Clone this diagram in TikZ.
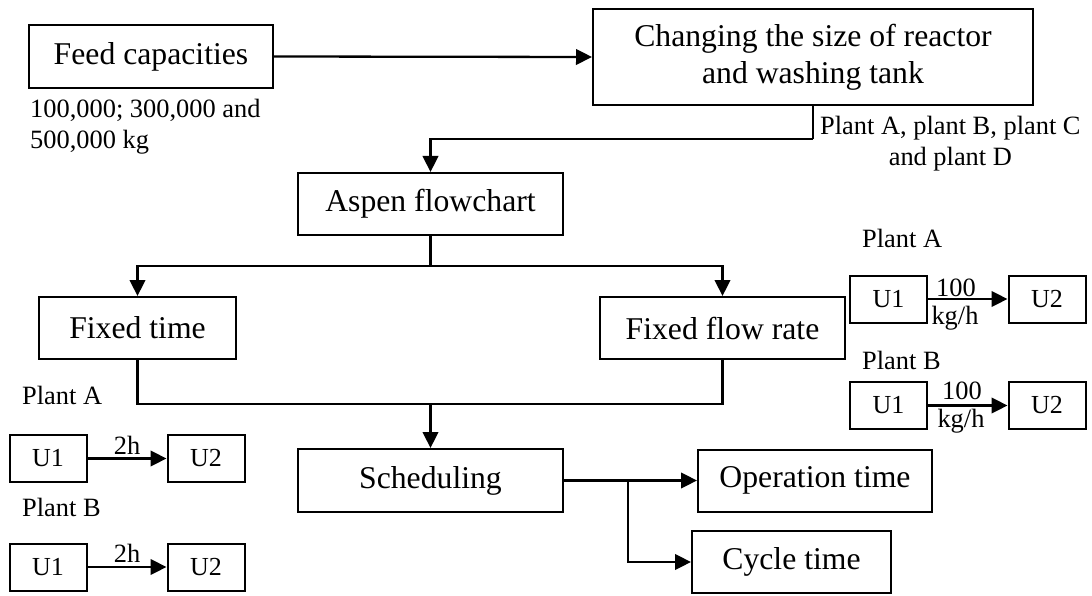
\documentclass[tikz,border=0pt]{standalone}
\usepackage{fontspec}
\setmainfont{Liberation Serif}
\usetikzlibrary{arrows.meta}

\tikzset{
  bigbox/.style={draw, line width=2pt, inner sep=0pt, align=center,
    font=\fontsize{31.7}{37}\selectfont},
  unitbox/.style={draw, line width=2pt, inner sep=0pt,
    minimum width=77pt, minimum height=47pt,
    font=\fontsize{26}{30}\selectfont},
  note/.style={inner sep=0pt, font=\fontsize{26.4}{31}\selectfont},
  link/.style={line width=2.3pt},
  arr/.style={line width=2.3pt, -{Triangle[length=16pt,width=15.5pt]}},
}

\begin{document}
\begin{tikzpicture}[x=1pt,y=-1pt]
\useasboundingbox (0,0) rectangle (1092,596);

% main process boxes
\node[bigbox, minimum width=244pt, minimum height=63pt] (feed)   at (151,56.5)   {Feed capacities};
\node[bigbox, minimum width=440pt, minimum height=96pt] (change) at (813,57)     {Changing the size of reactor\\and washing tank};
\node[bigbox, minimum width=265pt, minimum height=62pt] (aspen)  at (430.5,204)  {Aspen flowchart};
\node[bigbox, minimum width=197pt, minimum height=62pt] (ftime)  at (137.5,328)  {Fixed time};
\node[bigbox, minimum width=245pt, minimum height=62pt] (fflow)  at (722.5,328)  {Fixed flow rate};
\node[bigbox, minimum width=265pt, minimum height=63pt] (sched)  at (430.5,480.5){Scheduling};
\node[bigbox, minimum width=234pt, minimum height=62pt] (optime) at (815,480.5)  {Operation time};
\node[bigbox, minimum width=199pt, minimum height=62pt] (cycle)  at (791.5,562)  {Cycle time};

% annotations
\node[note, anchor=west, align=left] (cap) at (30,127)
  {100,000; 300,000 and\\500,000 kg};
\node[note, anchor=west, align=center] (plants) at (820,144)
  {Plant A, plant B, plant C\\and plant D};

% connectors of the main flow
\coordinate (j1) at (813,139);
\coordinate (j2) at (430.5,266);
\coordinate (j3) at (430.5,404);
\coordinate (j4) at (628,480.5);

\draw[arr] (feed.east) -- (change.west);
\draw[link] (change.south) -- (j1);
\draw[arr] (j1) -| (aspen.north);
\draw[link] (aspen.south) -- (j2);
\draw[arr] (j2) -| (ftime.north);
\draw[arr] (j2) -| (fflow.north);
\draw[link] (ftime.south) |- (j3) -| (fflow.south);
\draw[arr] (j3) -- (sched.north);
\draw[arr] (sched.east) -- (optime.west);
\draw[arr] (j4) |- (cycle.west);

% fixed time examples
\node[note, anchor=west] (ltA) at (22,395) {Plant A};
\node[unitbox] (lAu1) at (48,458.5) {U1};
\node[unitbox] (lAu2) at (206,458.5) {U2};
\draw[arr] (lAu1) -- node[note, above=3pt] {2h} (lAu2);

\node[note, anchor=west] (ltB) at (22,507) {Plant B};
\node[unitbox] (lBu1) at (48,567) {U1};
\node[unitbox] (lBu2) at (206,567) {U2};
\draw[arr] (lBu1) -- node[note, above=3pt] {2h} (lBu2);

% fixed flow rate examples
\node[note, anchor=west] (rtA) at (862,238) {Plant A};
\node[unitbox] (rAu1) at (888.5,299) {U1};
\node[unitbox] (rAu2) at (1047,299) {U2};
\draw[arr] (rAu1) -- (rAu2);
\node[note] (rAq) at (956,288) {100};
\node[note] (rAk) at (955,318) {kg/h};

\node[note, anchor=west] (rtB) at (862,360) {Plant B};
\node[unitbox] (rBu1) at (888.5,405.5) {U1};
\node[unitbox] (rBu2) at (1047,405.5) {U2};
\draw[arr] (rBu1) -- (rBu2);
\node[note] (rBq) at (962,391) {100};
\node[note] (rBk) at (961,421) {kg/h};
\end{tikzpicture}
\end{document}
